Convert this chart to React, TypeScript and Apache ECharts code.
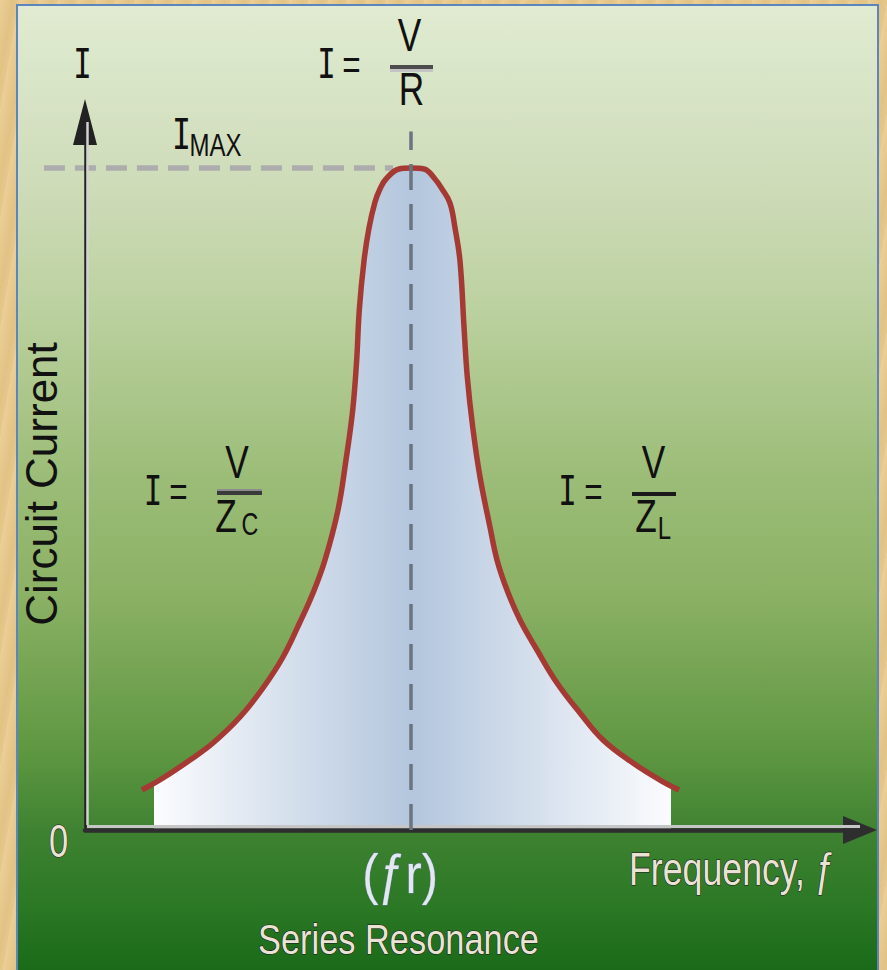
import React, { useEffect, useRef } from "react";
import * as echarts from "echarts";

// Circuit current I (IMAX = 10) against frequency (resonance fr = 10)
const leftCurve: number[][] = [
  [1.748, 0.604], [2.393, 0.785], [3.221, 1.057], [3.926, 1.314], [4.755, 1.707],
  [5.46, 2.145], [6.074, 2.613], [6.595, 3.142], [6.994, 3.58], [7.362, 4.079],
  [7.761, 4.834], [8.006, 5.589], [8.212, 6.344], [8.334, 7.1], [8.414, 7.855],
  [8.558, 8.595], [8.712, 9.094], [8.896, 9.486], [9.049, 9.683], [9.233, 9.834],
  [9.632, 9.985],
];
const peakPoint: number[] = [10, 10];
const rightCurve: number[][] = [
  [10.399, 9.985], [10.736, 9.834], [10.951, 9.683], [11.196, 9.471], [11.35, 9.094],
  [11.503, 8.595], [11.626, 7.598], [11.727, 6.843], [11.893, 6.088], [12.117, 5.332],
  [12.423, 4.577], [12.638, 4.079], [12.945, 3.625], [13.344, 3.172], [13.865, 2.719],
  [14.479, 2.221], [15.184, 1.767], [15.89, 1.36], [16.81, 1.012], [17.638, 0.755],
  [18.221, 0.604],
];
// where the shaded area under the curve starts and ends
const fillEdges: number[][] = [[2.117, 0.695], [17.975, 0.668]];
const resonanceFreq = 10;
const iMax = 10;
const xRange = [0, 23.773];
const yRange = [0, 10.695];
const resonanceLineTop = 10.55;
const iMaxLineSpan = [-1.26, 9.45];

const SANS = '"Liberation Sans", Arial, Helvetica, sans-serif';
const MONO = '"DejaVu Sans Mono", "Liberation Mono", monospace';

type Lbl = {
  t: string; x: number; y: number; s: number; font?: string; sx?: number;
  rot?: number; align?: string; fill?: string; stroke?: string; sw?: number;
};

const labels: Lbl[] = [
  { t: "I", x: 82.5, y: 64, s: 41, font: MONO },
  // I = V / R
  { t: "I", x: 326.5, y: 64, s: 41, font: MONO },
  { t: "=", x: 351.5, y: 64, s: 42 },
  { t: "V", x: 409.5, y: 35, s: 47 },
  { t: "R", x: 411.5, y: 89, s: 47 },
  // I = V / Zc
  { t: "I", x: 153, y: 491, s: 41, font: MONO },
  { t: "=", x: 178.5, y: 491, s: 42 },
  { t: "V", x: 237, y: 462, s: 47 },
  { t: "Z", x: 226, y: 516, s: 47 },
  { t: "C", x: 250, y: 524.5, s: 31 },
  // I = V / ZL
  { t: "I", x: 567.5, y: 491, s: 41, font: MONO },
  { t: "=", x: 593.5, y: 491, s: 42 },
  { t: "V", x: 653.5, y: 462, s: 47 },
  { t: "Z", x: 646, y: 516, s: 47 },
  { t: "L", x: 664.5, y: 527.5, s: 32 },
  // IMAX
  { t: "I", x: 181.5, y: 134.5, s: 42, font: MONO },
  { t: "MAX", x: 189.5, y: 144.5, s: 32, align: "left" },
  // axis titles
  { t: "Circuit Current", x: 41.5, y: 484, s: 44, sx: 1, rot: Math.PI / 2 },
  { t: "0", x: 58.5, y: 841.5, s: 46, fill: "#e9e4d2", stroke: "#1e1224", sw: 1.2 },
  { t: "Frequency, ƒ", x: 629, y: 869, s: 47, sx: 0.76, align: "left", fill: "#e9e4d2", stroke: "#1e1224", sw: 1.2 },
  { t: "(ƒr)", x: 400, y: 873.5, s: 56, sx: 0.87, fill: "#e2e8f1", stroke: "#6a7aa0", sw: 0.9 },
  { t: "Series Resonance", x: 258, y: 939.5, s: 43, sx: 0.8, align: "left", fill: "#e9e4d2", stroke: "#1e1224", sw: 1.2 },
];

const bars = [
  { x: 390, y: 65, w: 43, h: 4, c: "#4d4d4d" },
  { x: 390, y: 69, w: 43, h: 3, c: "#c4c4c4" },
  { x: 217, y: 489, w: 45, h: 2, c: "#8d8d8d" },
  { x: 217, y: 491, w: 45, h: 4, c: "#3a3a3a" },
  { x: 632, y: 492, w: 44, h: 4, c: "#1a1a1a" },
];

export default function App() {
  const ref = useRef<HTMLDivElement>(null);

  useEffect(() => {
    if (!ref.current) return;
    const chart = echarts.init(ref.current, null, { renderer: "svg" });
    const curve = [...leftCurve, peakPoint, ...rightCurve];
    const fillData = [
      fillEdges[0],
      ...curve.filter((p) => p[0] > fillEdges[0][0] && p[0] < fillEdges[1][0]),
      fillEdges[1],
    ];

    chart.setOption({
      animation: false,
      backgroundColor: "transparent",
      grid: { left: 85, right: 27, top: 122, bottom: 140, containLabel: false },
      xAxis: {
        type: "value", min: xRange[0], max: xRange[1], z: 3,
        axisLine: {
          show: true, onZero: true, symbol: ["none", "triangle"], symbolSize: [28, 34],
          lineStyle: { color: "#2e2e2e", width: 4.5 },
        },
        axisTick: { show: false }, axisLabel: { show: false }, splitLine: { show: false },
      },
      yAxis: {
        type: "value", min: yRange[0], max: yRange[1], z: 3,
        axisLine: {
          show: true, onZero: true, symbol: ["none", "triangle"], symbolSize: [24, 46],
          lineStyle: { color: "#222222", width: 2.5 },
        },
        axisTick: { show: false }, axisLabel: { show: false }, splitLine: { show: false },
      },
      series: [
        {
          type: "line", data: fillData, smooth: 0.4, symbol: "none", z: 1,
          lineStyle: { width: 0, opacity: 0 },
          areaStyle: {
            opacity: 1,
            color: new echarts.graphic.LinearGradient(0, 0, 1, 0, [
              { offset: 0, color: "#fbfcfe" },
              { offset: 0.5, color: "#b3c6dd" },
              { offset: 1, color: "#fbfcfe" },
            ]),
          },
          markLine: {
            silent: true, symbol: "none", label: { show: false },
            lineStyle: { type: [26, 14], color: "#6b7480", width: 3.5 },
            data: [[{ coord: [resonanceFreq, 0] }, { coord: [resonanceFreq, resonanceLineTop] }]],
          },
        },
        {
          type: "line", data: curve, smooth: 0.4, symbol: "none", z: 2,
          lineStyle: { color: "#a43a33", width: 5.5, cap: "butt" },
        },
      ],
    });

    const px = (x: number, y: number) => chart.convertToPixel({ seriesIndex: 1 }, [x, y]) as number[];
    const o = px(0, 0);
    const xe = px(xRange[1], 0);
    const ye = px(0, yRange[1]);
    const m0 = px(iMaxLineSpan[0], iMax);
    const m1 = px(iMaxLineSpan[1], iMax);

    const graphic: any[] = [
      {
        type: "line", z: 0, silent: true,
        shape: { x1: m0[0], y1: m0[1], x2: m1[0], y2: m1[1] },
        style: { stroke: "#adadad", lineWidth: 5.5, lineDash: [21, 10] },
      },
      {
        type: "line", z: 4, silent: true,
        shape: { x1: o[0] + 2, y1: o[1] - 3.5, x2: xe[0], y2: o[1] - 3.5 },
        style: { stroke: "#c6c6c6", lineWidth: 3 },
      },
      {
        type: "line", z: 4, silent: true,
        shape: { x1: o[0] + 2.5, y1: o[1] - 5, x2: o[0] + 2.5, y2: ye[1] },
        style: { stroke: "#d2d2d2", lineWidth: 2.5 },
      },
      ...bars.map((b) => ({
        type: "rect", z: 10, silent: true,
        shape: { x: b.x, y: b.y, width: b.w, height: b.h },
        style: { fill: b.c },
      })),
      ...labels.map((l) => ({
        type: "text", z: 10, silent: true,
        x: l.x, y: l.y, scaleX: l.sx ?? 0.75, rotation: l.rot ?? 0,
        style: {
          text: l.t, x: 0, y: 0,
          font: `${l.s}px ${l.font ?? SANS}`,
          fill: l.fill ?? "#111111",
          stroke: l.stroke, lineWidth: l.sw ?? 0,
          align: l.align ?? "center", verticalAlign: "middle",
          textAlign: l.align ?? "center", textVerticalAlign: "middle",
        },
      })),
    ];
    chart.setOption({ graphic });

    return () => chart.dispose();
  }, []);

  return (
    <div
      style={{
        position: "fixed", left: 0, top: 0, width: 887, height: 970, overflow: "hidden",
        background:
          "repeating-linear-gradient(100deg, rgba(255,240,200,0.18) 0px, rgba(255,240,200,0) 7px, rgba(190,150,80,0.12) 13px, rgba(255,240,200,0) 19px), #e7c88c",
      }}
    >
      <div
        style={{
          position: "absolute", left: 16, top: 4, width: 863, height: 980, boxSizing: "border-box",
          border: "2px solid #5a85bd",
          background:
            "linear-gradient(to bottom, #e0ebd1 0px, #d0ddbb 165px, #bcd1a0 300px, #9cbd78 470px, #8bb164 590px, #5d9641 750px, #3e8231 826px, #2b7825 900px, #1a6a19 966px)",
        }}
      />
      <div ref={ref} style={{ position: "absolute", left: 0, top: 0, width: 887, height: 970 }} />
    </div>
  );
}
